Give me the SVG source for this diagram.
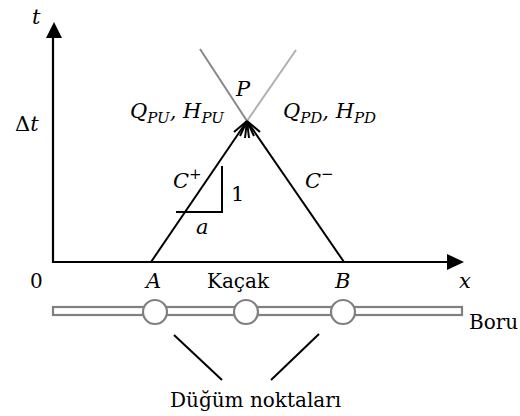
<svg xmlns="http://www.w3.org/2000/svg" width="520" height="416" viewBox="0 0 520 416">
<style>
.m{font-family:"DejaVu Serif",serif;font-style:italic;font-size:21px;fill:#000}
.s{font-size:15px}
.u{font-style:normal}
.r{font-family:"DejaVu Serif",serif;font-size:20px;fill:#000}
.ax{stroke:#000;stroke-width:2.2;fill:none}
.ln{stroke:#000;stroke-width:2;fill:none}
.pipe{stroke:#808080;stroke-width:2.2;fill:#fff}
</style>
<g id="axes">
<line class="ax" x1="53" y1="263" x2="53" y2="37"/>
<path d="M46,38 L54,22 L62,38 z" fill="#000"/>
<line class="ax" x1="52" y1="262" x2="448" y2="262"/>
<path d="M447,254 L464,262 L447,270 z" fill="#000"/>
<text class="m" x="32" y="24">t</text>
<text class="m" x="15" y="131"><tspan class="u">Δ</tspan>t</text>
<text class="r" x="30" y="288">0</text>
<text class="m" x="459" y="288">x</text>
</g>
<g id="connectors">
<line x1="200" y1="49" x2="247" y2="121" stroke="#888" stroke-width="2"/>
<line x1="296" y1="50" x2="247" y2="121" stroke="#b0b0b0" stroke-width="2"/>
<line class="ln" x1="151" y1="262" x2="247" y2="121"/>
<line class="ln" x1="344" y1="262" x2="247" y2="121"/>
<path class="ln" d="M247,121 L234,132 M247,121 L240,136 M247,121 L245,138 M247,121 L249,138 M247,121 L254,136 M247,121 L260,132"/>
<path class="ln" d="M176,212 L222,212 L222,166"/>
<line class="ln" x1="174" y1="335" x2="222" y2="380"/>
<line class="ln" x1="319" y1="334" x2="271" y2="380"/>
</g>
<g id="labels">
<text class="m" x="236" y="96">P</text>
<text class="m" x="130" y="118">Q<tspan class="s" dy="5">PU</tspan><tspan dy="-5">, H</tspan><tspan class="s" dy="5">PU</tspan></text>
<text class="m" x="283" y="118">Q<tspan class="s" dy="5">PD</tspan><tspan dy="-5">, H</tspan><tspan class="s" dy="5">PD</tspan></text>
<text class="m" x="173" y="188">C<tspan class="s" dy="-9">+</tspan></text>
<text class="m" x="305" y="188">C<tspan class="s" dy="-9">−</tspan></text>
<text class="m u" x="231" y="201">1</text>
<text class="m" x="196" y="234">a</text>
<text class="m" x="146" y="288">A</text>
<text class="m" x="335" y="288">B</text>
<text class="r" x="207" y="288">Kaçak</text>
</g>
<g id="pipe">
<rect class="pipe" x="53" y="307" width="409" height="8"/>
<circle class="pipe" cx="155" cy="312" r="12"/>
<circle class="pipe" cx="246" cy="312" r="12"/>
<circle class="pipe" cx="343" cy="312" r="12"/>
<text class="r" x="469" y="329">Boru</text>
</g>
<g id="nodes-label">
<text class="r" x="170" y="407">Düğüm noktaları</text>
</g>
</svg>
